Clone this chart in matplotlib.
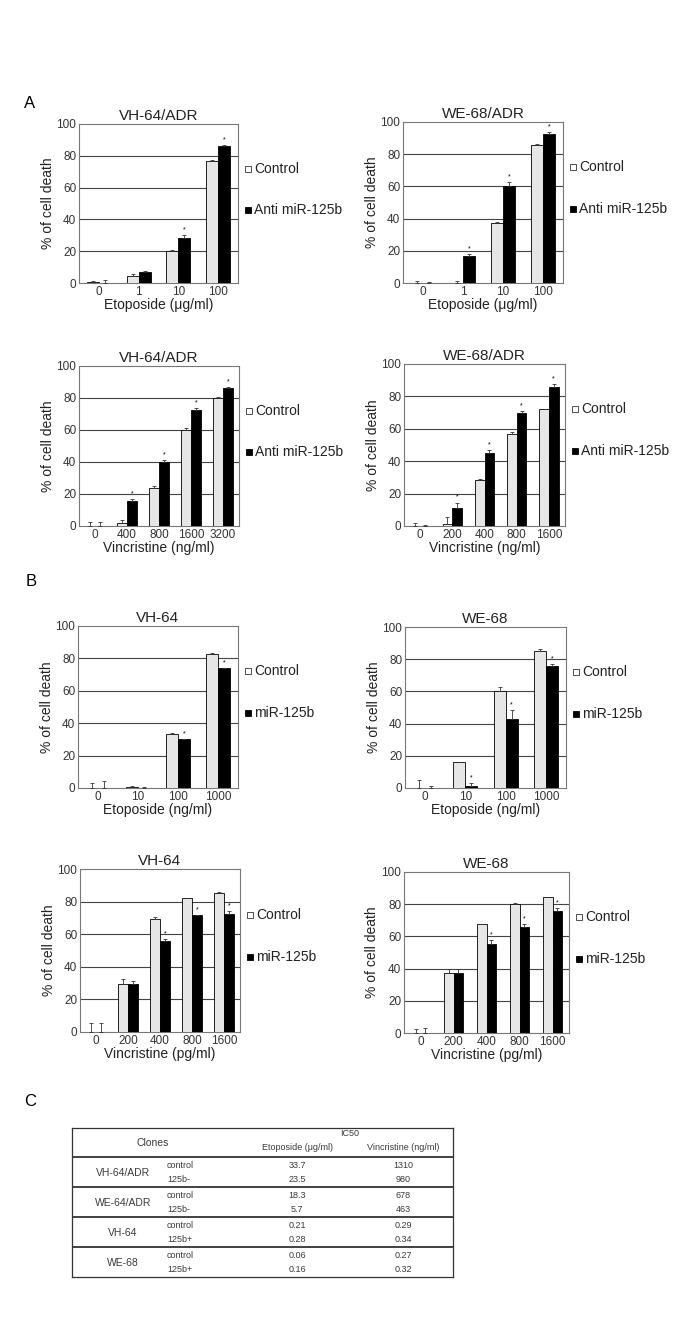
import matplotlib.pyplot as plt
import numpy as np

plt.rcParams['font.family'] = ['Liberation Sans', 'DejaVu Sans']

W, H = 685, 1329

# ---- data -------------------------------------------------------------
a1_doses = ['0', '1', '10', '100']
a1_ctrl = [0.5, 4.5, 20, 77]
a1_ctrl_err = [0.5, 1.0, 0.7, 0.5]
a1_treat = [0.2, 7, 28.5, 86]
a1_treat_err = [1.5, 0.8, 1.5, 0.8]
a1_star = [False, False, True, True]

a2_doses = ['0', '1', '10', '100']
a2_ctrl = [0.3, 0.3, 37.5, 85.5]
a2_ctrl_err = [1.0, 1.0, 0.3, 1.0]
a2_treat = [0.2, 16.5, 60.5, 92.5]
a2_treat_err = [0.5, 1.5, 2.0, 1.0]
a2_star = [False, True, True, True]

a3_doses = ['0', '400', '800', '1600', '3200']
a3_ctrl = [0.2, 2, 23.5, 60, 80]
a3_ctrl_err = [2.0, 1.5, 1.5, 1.5, 0.5]
a3_treat = [0.2, 15.5, 40, 72.5, 86.5]
a3_treat_err = [2.0, 1.5, 1.5, 1.5, 0.5]
a3_star = [False, True, True, True, True]

a4_doses = ['0', '200', '400', '800', '1600']
a4_ctrl = [0.2, 1.5, 28.5, 57, 72]
a4_ctrl_err = [1.5, 4.0, 0.3, 1.0, 0.0]
a4_treat = [0.2, 11, 45, 70, 86]
a4_treat_err = [0.5, 3.5, 2.0, 1.0, 1.5]
a4_star = [False, True, True, True, True]

b1_doses = ['0', '10', '100', '1000']
b1_ctrl = [0.2, 0.5, 33.5, 83]
b1_ctrl_err = [3.0, 0.5, 0.3, 0.5]
b1_treat = [0.2, 0.3, 30, 74]
b1_treat_err = [4.0, 0.2, 0.5, 0.0]
b1_star = [False, False, True, True]

b2_doses = ['0', '10', '100', '1000']
b2_ctrl = [0.2, 16, 60, 85]
b2_ctrl_err = [5.0, 0.3, 3.0, 1.5]
b2_treat = [0.2, 1, 43, 76]
b2_treat_err = [1.0, 2.0, 5.5, 1.0]
b2_star = [False, True, True, True]

b3_doses = ['0', '200', '400', '800', '1600']
b3_ctrl = [0.2, 29.5, 69.5, 82, 85.5]
b3_ctrl_err = [5.5, 3.0, 1.2, 0.3, 0.3]
b3_treat = [0.2, 29.5, 56, 71.5, 72.5]
b3_treat_err = [5.5, 1.5, 0.8, 0.5, 1.5]
b3_star = [False, False, True, True, True]

b4_doses = ['0', '200', '400', '800', '1600']
b4_ctrl = [0.2, 37, 67.5, 80, 84.5]
b4_ctrl_err = [2.0, 3.0, 0.5, 0.5, 0.0]
b4_treat = [0.2, 37, 55.5, 66, 76]
b4_treat_err = [3.0, 3.0, 2.0, 1.5, 1.5]
b4_star = [False, False, True, True, True]

titles = ['VH-64/ADR', 'WE-68/ADR', 'VH-64/ADR', 'WE-68/ADR',
          'VH-64', 'WE-68', 'VH-64', 'WE-68']
xlabels = ['Etoposide (μg/ml)', 'Etoposide (μg/ml)',
           'Vincristine (ng/ml)', 'Vincristine (ng/ml)',
           'Etoposide (ng/ml)', 'Etoposide (ng/ml)',
           'Vincristine (pg/ml)', 'Vincristine (pg/ml)']
treat_names = ['Anti miR-125b'] * 4 + ['miR-125b'] * 4

table_cols = ['Etoposide (μg/ml)', 'Vincristine (ng/ml)']
table_clones = ['VH-64/ADR', 'WE-64/ADR', 'VH-64', 'WE-68']
table_groups = [['control', '125b-'], ['control', '125b-'],
                ['control', '125b+'], ['control', '125b+']]
table_etop = [['33.7', '23.5'], ['18.3', '5.7'], ['0.21', '0.28'], ['0.06', '0.16']]
table_vinc = [['1310', '980'], ['678', '463'], ['0.29', '0.34'], ['0.27', '0.32']]

panels = [
    (a1_doses, a1_ctrl, a1_ctrl_err, a1_treat, a1_treat_err, a1_star),
    (a2_doses, a2_ctrl, a2_ctrl_err, a2_treat, a2_treat_err, a2_star),
    (a3_doses, a3_ctrl, a3_ctrl_err, a3_treat, a3_treat_err, a3_star),
    (a4_doses, a4_ctrl, a4_ctrl_err, a4_treat, a4_treat_err, a4_star),
    (b1_doses, b1_ctrl, b1_ctrl_err, b1_treat, b1_treat_err, b1_star),
    (b2_doses, b2_ctrl, b2_ctrl_err, b2_treat, b2_treat_err, b2_star),
    (b3_doses, b3_ctrl, b3_ctrl_err, b3_treat, b3_treat_err, b3_star),
    (b4_doses, b4_ctrl, b4_ctrl_err, b4_treat, b4_treat_err, b4_star),
]

# axes boxes in pixels: left, top, right, bottom
boxes = [(79, 124, 238, 283), (403, 122, 563, 283),
         (79, 366, 239, 526), (404, 364, 565, 526),
         (78, 626, 238, 788), (405, 627, 566, 788),
         (80, 869, 240, 1032), (404, 872, 569, 1033)]


def px_axes(fig, l, t, r, b):
    return fig.add_axes([l / W, 1 - b / H, (r - l) / W, (b - t) / H])


def bar_panel(ax, doses, ctrl, ctrl_err, treat, treat_err, star,
              title, xlabel, tname):
    x = np.arange(len(doses))
    bw = 0.3
    ax.bar(x - bw / 2, ctrl, bw, color='#e6e6e6', edgecolor='black', linewidth=0.6, zorder=3)
    ax.bar(x + bw / 2, treat, bw, color='black', edgecolor='black', linewidth=0.6, zorder=3)
    ax.errorbar(x - bw / 2, ctrl, yerr=[np.zeros(len(x)), ctrl_err], fmt='none',
                ecolor='#333333', elinewidth=0.6, capsize=1.6, capthick=0.6, zorder=4)
    ax.errorbar(x + bw / 2, treat, yerr=[np.zeros(len(x)), treat_err], fmt='none',
                ecolor='#333333', elinewidth=0.6, capsize=1.6, capthick=0.6, zorder=4)
    for i, s in enumerate(star):
        if s:
            ax.text(x[i] + bw / 2, treat[i] + treat_err[i] + 1.0, '*', ha='center',
                    va='bottom', fontsize=5)
    ax.set_xlim(-0.5, len(doses) - 0.5)
    ax.set_ylim(0, 100)
    ax.set_yticks([0, 20, 40, 60, 80, 100])
    for g in [20, 40, 60, 80]:
        ax.axhline(g, color='#444444', linewidth=0.8, zorder=1)
    ax.set_xticks(x)
    ax.set_xticklabels(doses)
    ax.tick_params(length=0, labelsize=8.5, colors='#333333', pad=2)
    ax.tick_params(axis='y', pad=2)
    for sp in ax.spines.values():
        sp.set_color('#777777')
        sp.set_linewidth(0.8)
    ax.set_title(title, fontsize=11, color='#222222', pad=3)
    ax.set_xlabel(xlabel, fontsize=10, color='#222222', labelpad=0)
    ax.set_ylabel('% of cell death', fontsize=10, color='#222222')
    ax.yaxis.set_label_coords(-0.15, 0.5)
    # legend on the right
    ax.plot([1.06], [0.72], marker='s', ms=4.5, mfc='white', mec='#333333', mew=0.6,
            transform=ax.transAxes, clip_on=False)
    ax.text(1.1, 0.72, 'Control', transform=ax.transAxes, fontsize=10,
            va='center', ha='left', color='#222222')
    ax.plot([1.06], [0.46], marker='s', ms=4.5, mfc='black', mec='black', mew=0.6,
            transform=ax.transAxes, clip_on=False)
    ax.text(1.1, 0.46, tname, transform=ax.transAxes, fontsize=10,
            va='center', ha='left', color='#222222')


fig = plt.figure(figsize=(W / 100, H / 100), dpi=100)

for i, p in enumerate(panels):
    ax = px_axes(fig, *boxes[i])
    bar_panel(ax, *p, titles[i], xlabels[i], treat_names[i])

fig.text(30 / W, 1 - 103 / H, 'A', fontsize=12, ha='center', va='center')
fig.text(31 / W, 1 - 582 / H, 'B', fontsize=12, ha='center', va='center')
fig.text(30 / W, 1 - 1102 / H, 'C', fontsize=12, ha='center', va='center')

# ---- table C ----------------------------------------------------------
tx = px_axes(fig, 72, 1128, 453, 1277)
tx.set_xlim(0, 381)
tx.set_ylim(149, 0)
tx.set_xticks([])
tx.set_yticks([])
for sp in tx.spines.values():
    sp.set_color('#333333')
    sp.set_linewidth(0.9)
head_h = 29
row_h = 30
tc = '#3a3a3a'
tx.axhline(head_h, color='#333333', linewidth=1.3)
tx.text(81, 15, 'Clones', ha='center', va='center', fontsize=7.5, color=tc)
tx.text(278, 6, 'IC50', ha='center', va='center', fontsize=6.5, color=tc)
tx.text(225, 19, table_cols[0], ha='center', va='center', fontsize=6.5, color=tc)
tx.text(331, 19, table_cols[1], ha='center', va='center', fontsize=6.5, color=tc)
for r in range(len(table_clones)):
    top = head_h + r * row_h
    if r > 0:
        tx.axhline(top, color='#333333', linewidth=1.3)
    tx.text(51, top + row_h / 2 + 0.5, table_clones[r], ha='center', va='center',
            fontsize=7.5, color=tc)
    for k in range(2):
        yy = top + 9 + k * 13
        tx.text(95, yy, table_groups[r][k], ha='left', va='center', fontsize=6.5, color=tc)
        tx.text(225, yy, table_etop[r][k], ha='center', va='center', fontsize=6.5, color=tc)
        tx.text(331, yy, table_vinc[r][k], ha='center', va='center', fontsize=6.5, color=tc)

fig.savefig('out.png', dpi=100)
